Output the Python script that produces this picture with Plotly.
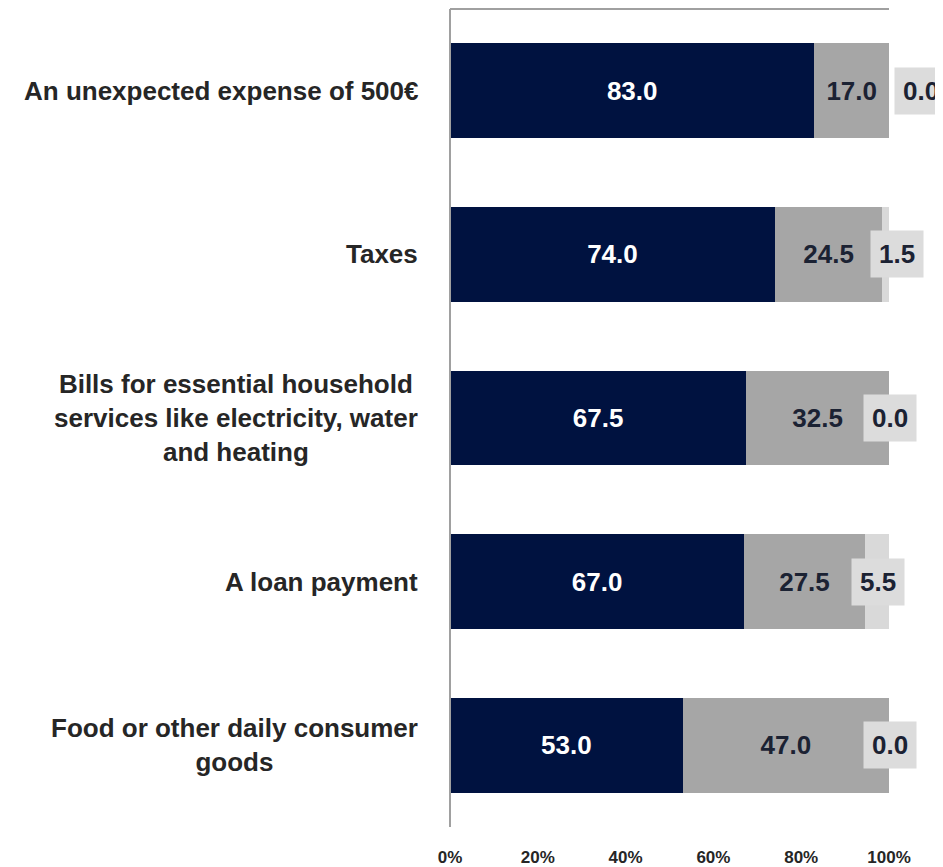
import plotly.graph_objects as go

categories = [
    "An unexpected expense of 500€",
    "Taxes",
    "Bills for essential household<br>services like electricity, water<br>and heating",
    "A loan payment",
    "Food or other daily consumer<br>goods",
]
series_a = [83.0, 74.0, 67.5, 67.0, 53.0]
series_b = [17.0, 24.5, 32.5, 27.5, 47.0]
series_c = [0.0, 1.5, 0.0, 5.5, 0.0]
tick_vals = [0, 20, 40, 60, 80, 100]
tick_text = ["0%", "20%", "40%", "60%", "80%", "100%"]

# pixel offsets for the light-grey label boxes (layout only)
label_shift = [32, 11, 1, 1, 1]

FONT = "Liberation Sans, Arial, sans-serif"
NAVY = "#001240"
GREY = "#a6a6a6"
LIGHT = "#d9d9d9"
TXT = "#1b2233"

ypos = list(range(len(categories)))

fig = go.Figure()
fig.add_trace(go.Bar(
    y=ypos, x=series_a, orientation="h", marker=dict(color=NAVY, line=dict(width=0)),
    text=[f"{v:.1f}" for v in series_a], textposition="inside", insidetextanchor="middle",
    textangle=0, textfont=dict(family=FONT, size=26, color="white"), width=0.58,
    name="a",
))
fig.add_trace(go.Bar(
    y=ypos, x=series_b, orientation="h", marker=dict(color=GREY, line=dict(width=0)),
    text=[f"{v:.1f}" for v in series_b], textposition="inside", insidetextanchor="middle",
    textangle=0, textfont=dict(family=FONT, size=26, color=TXT), width=0.58,
    name="b",
))
fig.add_trace(go.Bar(
    y=ypos, x=series_c, orientation="h", marker=dict(color=LIGHT, line=dict(width=0)),
    width=0.58, hoverinfo="skip", name="c",
))

annotations = []
for i, cat in enumerate(categories):
    annotations.append(dict(
        x=0, xref="paper", y=i, yref="y", text=f"<b>{cat}</b>", showarrow=False,
        xanchor="right", yanchor="middle", align="center", xshift=-30,
        font=dict(family=FONT, size=26, color="#262626"),
    ))
    center = series_a[i] + series_b[i] + series_c[i] / 2
    annotations.append(dict(
        x=center, xref="x", y=i, yref="y", text=f"<b>{series_c[i]:.1f}</b>",
        showarrow=False, xanchor="center", yanchor="middle", xshift=label_shift[i],
        bgcolor="#dcdcdc", borderpad=8,
        font=dict(family=FONT, size=26, color=TXT),
    ))

fig.update_traces(selector=dict(type="bar"), texttemplate="<b>%{text}</b>")

fig.update_layout(
    barmode="stack", width=935, height=860, showlegend=False,
    paper_bgcolor="white", plot_bgcolor="white",
    margin=dict(l=442, r=54, t=1, b=35),
    annotations=annotations,
    shapes=[
        dict(type="line", xref="x domain", yref="y domain", x0=0, x1=1, y0=1, y1=1,
             line=dict(color="#a0a0a0", width=2)),
        dict(type="line", xref="x domain", yref="y domain", x0=0, x1=0, y0=0, y1=1,
             line=dict(color="#a0a0a0", width=2)),
    ],
)
fig.update_xaxes(
    range=[0, 100], tickvals=tick_vals, ticktext=[f"<b>{t}</b>" for t in tick_text],
    showgrid=False, zeroline=False, showline=False,
    ticks="outside", ticklen=15, tickcolor="rgba(0,0,0,0)",
    tickfont=dict(family=FONT, size=17, color="#262626"),
)
fig.update_yaxes(
    range=[4.5, -0.5], showticklabels=False, showgrid=False, zeroline=False,
    showline=False, ticks="",
)

fig.write_html("out.html")
